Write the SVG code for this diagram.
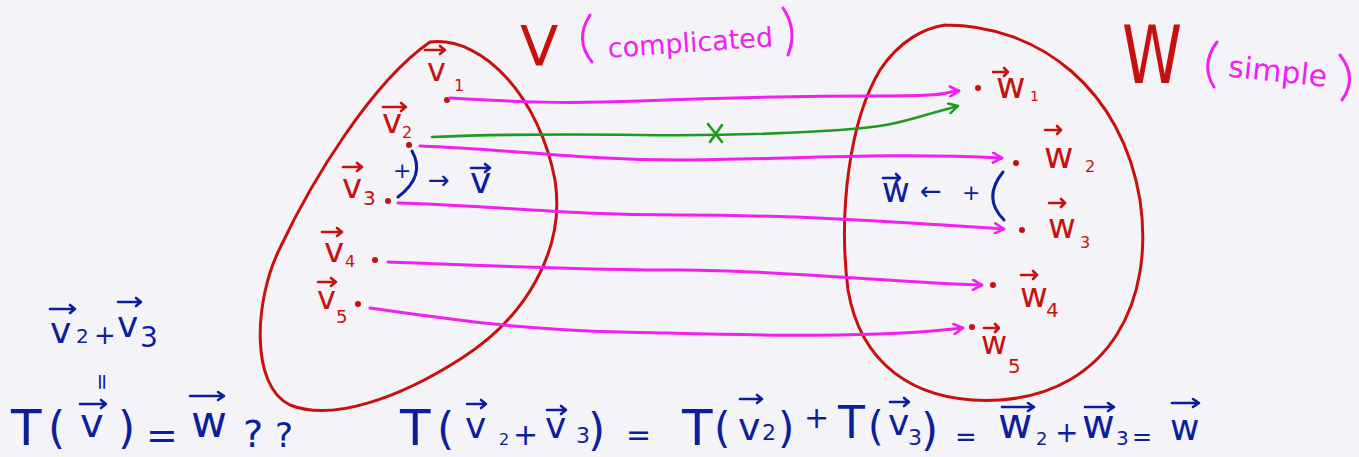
<svg xmlns="http://www.w3.org/2000/svg" width="1359" height="457" viewBox="0 0 1359 457">
<style>
text{font-family:"DejaVu Sans","Liberation Sans",sans-serif}
.r{fill:#c8110f}
.b{fill:#0d1e9c}
.m{fill:#f020ef}
.blob{fill:none;stroke:#c8110f;stroke-width:3;stroke-linecap:round}
.va{fill:none;stroke-width:2.6;stroke-linecap:round;stroke-linejoin:round}
.vr{stroke:#c8110f}
.vb{stroke:#0d1e9c}
.mc{fill:none;stroke:#f020ef;stroke-width:3;stroke-linecap:round}
.gc{fill:none;stroke:#1e9a1e;stroke-width:2.6;stroke-linecap:round}
.dot{fill:#c8110f}
.bl{fill:none;stroke:#0d1e9c;stroke-width:3;stroke-linecap:round}
</style>
<defs>
<marker id="hm" viewBox="0 0 12 12" refX="11" refY="6" markerWidth="12" markerHeight="12" markerUnits="userSpaceOnUse" orient="auto">
<path d="M2,1 L11,6 L2,11" fill="none" stroke="#f020ef" stroke-width="2.6" stroke-linecap="round" stroke-linejoin="round"/>
</marker>
<marker id="hg" viewBox="0 0 12 12" refX="11" refY="6" markerWidth="12" markerHeight="12" markerUnits="userSpaceOnUse" orient="auto">
<path d="M2,1 L11,6 L2,11" fill="none" stroke="#1e9a1e" stroke-width="2.4" stroke-linecap="round" stroke-linejoin="round"/>
</marker>
</defs>
<rect width="1359" height="457" fill="#f4f3f7"/>

<g id="setV">
<path class="blob" d="M430,42 C485,36 540,100 555,180 C566,250 525,318 462,358 C400,398 332,422 290,405 C250,386 254,300 280,248 C312,180 372,82 430,42 Z"/>
<text class="r" x="520" y="65" font-size="56">V</text>
<text class="m" x="607" y="52" font-size="27" transform="rotate(-4 690 35)">complicated</text>
<path class="blob" style="stroke:#f020ef" d="M590,15 Q574,40 592,62"/>
<path class="blob" style="stroke:#f020ef" d="M783,8 Q798,30 788,55"/>
</g>

<g id="setW">
<path class="blob" d="M945,25 C1040,25 1122,90 1140,200 C1155,300 1110,392 1000,400 C910,405 860,360 848,290 C838,210 850,120 880,70 C900,40 925,28 945,25"/>
<text class="r" x="1122" y="83" font-size="80" textLength="60" lengthAdjust="spacingAndGlyphs">W</text>
<text class="m" x="1228" y="82" font-size="30" transform="rotate(6 1280 75)">simple</text>
<path class="blob" style="stroke:#f020ef" d="M1217,42 Q1200,65 1214,87"/>
<path class="blob" style="stroke:#f020ef" d="M1340,55 Q1358,78 1342,100"/>
</g>

<g id="v1"><text class="r" x="427" y="81" font-size="32">v</text><text class="r" x="454" y="91" font-size="16">1</text><path class="va vr" d="M425,50 H445 M440,46 L445,50 L440,54"/><circle class="dot" cx="447" cy="100" r="3"/></g>
<g id="v2"><text class="r" x="382" y="133" font-size="34">v</text><text class="r" x="402" y="138" font-size="16">2</text><path class="va vr" d="M383,107 H406 M401,103 L406,107 L401,111"/><circle class="dot" cx="409" cy="145" r="3"/></g>
<g id="v3"><text class="r" x="342" y="198" font-size="34">v</text><text class="r" x="363" y="205" font-size="20">3</text><path class="va vr" d="M343,167 H362 M357,163 L362,167 L357,171"/><circle class="dot" cx="388" cy="201" r="3"/></g>
<g id="v4"><text class="r" x="324" y="262" font-size="34">v</text><text class="r" x="345" y="267" font-size="16">4</text><path class="va vr" d="M322,232 H342 M337,228 L342,232 L337,236"/><circle class="dot" cx="375" cy="260" r="3"/></g>
<g id="v5"><text class="r" x="317" y="309" font-size="32">v</text><text class="r" x="336" y="323" font-size="18">5</text><path class="va vr" d="M318,282 H336 M331,278 L336,282 L331,286"/><circle class="dot" cx="358" cy="304" r="3"/></g>

<g id="w1"><circle class="dot" cx="978" cy="88" r="3"/><text class="r" x="996" y="98" font-size="36">w</text><text class="r" x="1030" y="101" font-size="14">1</text><path class="va vr" d="M993,72 H1008 M1004,68 L1008,72 L1004,76"/></g>
<g id="w2"><circle class="dot" cx="1016" cy="163" r="3"/><text class="r" x="1044" y="168" font-size="36">w</text><text class="r" x="1085" y="172" font-size="16">2</text><path class="va vr" d="M1045,130 H1061 M1057,126 L1061,130 L1057,134"/></g>
<g id="w3"><circle class="dot" cx="1022" cy="230" r="3"/><text class="r" x="1048" y="238" font-size="34">w</text><text class="r" x="1080" y="248" font-size="16">3</text><path class="va vr" d="M1049,203 H1065 M1061,199 L1065,203 L1061,207"/></g>
<g id="w4"><circle class="dot" cx="993" cy="285" r="3"/><text class="r" x="1020" y="307" font-size="34">w</text><text class="r" x="1046" y="317" font-size="20">4</text><path class="va vr" d="M1021,275 H1037 M1033,271 L1037,275 L1033,279"/></g>
<g id="w5"><circle class="dot" cx="972" cy="327" r="3"/><text class="r" x="981" y="354" font-size="32">w</text><text class="r" x="1008" y="373" font-size="20">5</text><path class="va vr" d="M984,328 H999 M995,324 L999,328 L995,332"/></g>

<g id="connectors">
<path class="mc" marker-end="url(#hm)" d="M450,98 C520,102 560,104 640,101 S800,96 880,96 S940,92 959,91"/>
<path class="gc" marker-end="url(#hg)" d="M432,137 C500,134 560,134 640,135 S780,134 840,130 S905,120 958,106"/>
<path class="gc" d="M708,124 L722,142 M722,125 L710,142"/>
<path class="mc" marker-end="url(#hm)" d="M420,146 C520,150 580,160 680,160 S880,152 1002,158"/>
<path class="mc" marker-end="url(#hm)" d="M398,203 C500,206 560,215 680,215 S900,222 1004,229"/>
<path class="mc" marker-end="url(#hm)" d="M388,262 C500,266 580,270 680,270 S900,283 982,285"/>
<path class="mc" marker-end="url(#hm)" d="M370,308 C440,318 520,330 620,332 S860,340 963,328"/>
</g>

<g id="sumV">
<text class="b" x="393" y="178" font-size="22">+</text>
<path class="bl" d="M412,151 Q426,176 398,197"/>
<text class="b" x="428" y="189" font-size="26">→</text>
<text class="b" x="470" y="193" font-size="36">v</text>
<path class="va vb" d="M471,168 H490 M485,164 L490,168 L485,172"/>
</g>

<g id="sumW">
<text class="b" x="882" y="202" font-size="34">w</text>
<path class="va vb" d="M883,178 H900 M896,174 L900,178 L896,182"/>
<text class="b" x="920" y="200" font-size="26">←</text>
<text class="b" x="962" y="200" font-size="22">+</text>
<path class="bl" d="M1003,172 Q982,198 1004,220"/>
</g>

<g id="noteLeft">
<text class="b" x="50" y="343" font-size="36">v</text>
<text class="b" x="76" y="343" font-size="20">2</text>
<text class="b" x="94" y="344" font-size="26">+</text>
<text class="b" x="117" y="337" font-size="36">v</text>
<text class="b" x="140" y="347" font-size="28">3</text>
<path class="va vb" d="M50,309 H75 M70,305 L75,309 L70,313"/>
<path class="va vb" d="M118,302 H141 M136,298 L141,302 L136,306"/>
<text class="b" x="95" y="382" font-size="22" text-anchor="middle" transform="rotate(90 95 382)">=</text>
<text class="b" x="11" y="445" font-size="50">T</text>
<text class="b" x="48" y="443" font-size="44">(</text>
<text class="b" x="80" y="437" font-size="40">v</text>
<path class="va vb" d="M80,404 H106 M101,400 L106,404 L101,408"/>
<text class="b" x="118" y="443" font-size="44">)</text>
<text class="b" x="146" y="448" font-size="38">=</text>
<text class="b" x="191" y="437" font-size="44">w</text>
<path class="va vb" d="M190,396 H224 M218,392 L224,396 L218,400"/>
<text class="b" x="243" y="447" font-size="38">?</text>
<text class="b" x="275" y="447" font-size="34">?</text>
</g>

<g id="equation">
<text class="b" x="400" y="445" font-size="50">T</text>
<text class="b" x="437" y="444" font-size="44">(</text>
<text class="b" x="465" y="438" font-size="36">v</text>
<path class="va vb" d="M467,404 H486 M481,400 L486,404 L481,408"/>
<text class="b" x="499" y="445" font-size="16">2</text>
<text class="b" x="513" y="445" font-size="30">+</text>
<text class="b" x="545" y="438" font-size="36">v</text>
<path class="va vb" d="M547,410 H566 M561,406 L566,410 L561,414"/>
<text class="b" x="576" y="443" font-size="22">3</text>
<text class="b" x="588" y="445" font-size="44">)</text>
<text class="b" x="626" y="445" font-size="30">=</text>
<text class="b" x="682" y="445" font-size="50">T</text>
<text class="b" x="714" y="443" font-size="42">(</text>
<text class="b" x="738" y="440" font-size="38">v</text>
<path class="va vb" d="M740,399 H762 M757,395 L762,399 L757,403"/>
<text class="b" x="762" y="440" font-size="22">2</text>
<text class="b" x="778" y="443" font-size="42">)</text>
<text class="b" x="804" y="428" font-size="30">+</text>
<text class="b" x="838" y="438" font-size="44">T</text>
<text class="b" x="868" y="440" font-size="40">(</text>
<text class="b" x="888" y="435" font-size="36">v</text>
<path class="va vb" d="M890,402 H909 M904,398 L909,402 L904,406"/>
<text class="b" x="908" y="445" font-size="22">3</text>
<text class="b" x="921" y="445" font-size="44">)</text>
<text class="b" x="955" y="446" font-size="26">=</text>
<text class="b" x="998" y="438" font-size="42">w</text>
<path class="va vb" d="M1002,407 H1034 M1028,403 L1034,407 L1028,411"/>
<text class="b" x="1036" y="445" font-size="18">2</text>
<text class="b" x="1055" y="442" font-size="28">+</text>
<text class="b" x="1082" y="438" font-size="40">w</text>
<path class="va vb" d="M1085,407 H1114 M1108,403 L1114,407 L1108,411"/>
<text class="b" x="1116" y="445" font-size="20">3</text>
<text class="b" x="1132" y="445" font-size="24">=</text>
<text class="b" x="1170" y="440" font-size="36">w</text>
<path class="va vb" d="M1172,403 H1199 M1193,399 L1199,403 L1193,407"/>
</g>
</svg>
